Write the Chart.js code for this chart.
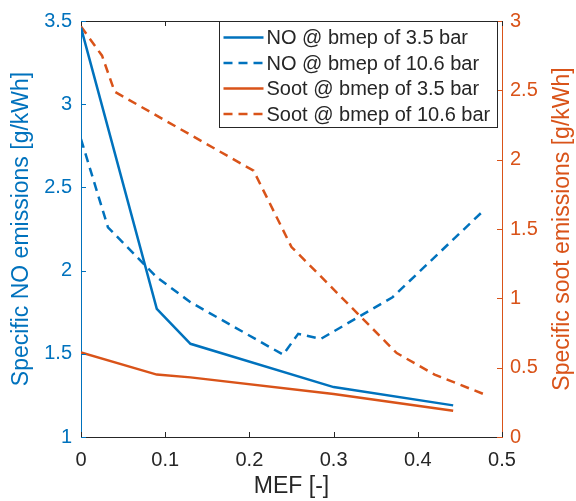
<!DOCTYPE html>
<html>
<head>
<meta charset="utf-8">
<script src="https://cdn.jsdelivr.net/npm/chart.js@4/dist/chart.umd.min.js"></script>
<style>
  body { margin: 0; background: #fff; }
  #wrap { width: 576px; height: 501px; }
</style>
</head>
<body>
<div id="wrap"><canvas id="chart" width="576" height="501"></canvas></div>
<script>
// values
const mefNo35 = [0, 0.09, 0.13, 0.30, 0.442];
const no35 = [3.46, 1.77, 1.56, 1.30, 1.19];
const mefNo106 = [0, 0.032, 0.09, 0.13, 0.24, 0.258, 0.285, 0.37, 0.478];
const no106 = [2.79, 2.26, 1.96, 1.81, 1.495, 1.62, 1.59, 1.84, 2.36];
const mefSoot35 = [0, 0.09, 0.13, 0.30, 0.442];
const soot35 = [0.61, 0.45, 0.43, 0.31, 0.19];
const mefSoot106 = [0, 0.025, 0.04, 0.205, 0.25, 0.30, 0.375, 0.42, 0.478];
const soot106 = [2.96, 2.75, 2.49, 1.92, 1.37, 1.065, 0.605, 0.45, 0.31];

const labels = ['NO @ bmep of 3.5 bar', 'NO @ bmep of 10.6 bar',
  'Soot @ bmep of 3.5 bar', 'Soot @ bmep of 10.6 bar'];
const sootTitle = 'Specific soot emissions [g/kWh]';

const blue = '#0072BD';
const orange = '#D95319';
const dark = '#262626';
const font = 'Arial, "Liberation Sans", Helvetica, sans-serif';

function pts(xs, ys) {
  return xs.map((x, i) => ({ x: x, y: ys[i] }));
}

// plain numbers like matlab: 1, 1.5, 2 ...
const plain = v => String(Math.round(v * 10) / 10);

// MATLAB style inward ticks, top box line, right label and an inside legend
const matlabBox = {
  id: 'matlabBox',
  afterDraw(chart) {
    const ctx = chart.ctx;
    const a = chart.chartArea;
    const sx = chart.scales.x, yl = chart.scales.y, yr = chart.scales.y2;
    const len = 5;
    ctx.save();
    ctx.lineWidth = 1;
    ctx.strokeStyle = dark;
    ctx.beginPath();
    ctx.moveTo(a.left, a.top + 0.5);
    ctx.lineTo(a.right, a.top + 0.5);
    sx.ticks.forEach(t => {
      const px = Math.round(sx.getPixelForValue(t.value)) + 0.5;
      ctx.moveTo(px, a.bottom);
      ctx.lineTo(px, a.bottom - len);
      ctx.moveTo(px, a.top);
      ctx.lineTo(px, a.top + len);
    });
    ctx.stroke();
    ctx.strokeStyle = blue;
    ctx.beginPath();
    yl.ticks.forEach(t => {
      const py = Math.round(yl.getPixelForValue(t.value)) + 0.5;
      ctx.moveTo(a.left, py);
      ctx.lineTo(a.left + len, py);
    });
    ctx.stroke();
    ctx.strokeStyle = orange;
    ctx.beginPath();
    yr.ticks.forEach(t => {
      const py = Math.round(yr.getPixelForValue(t.value)) + 0.5;
      ctx.moveTo(a.right, py);
      ctx.lineTo(a.right - len, py);
    });
    ctx.stroke();

    // right axis label, read bottom to top
    ctx.save();
    ctx.translate(yr.right - 13, (a.top + a.bottom) / 2);
    ctx.rotate(-Math.PI / 2);
    ctx.font = '23px ' + font;
    ctx.fillStyle = orange;
    ctx.textAlign = 'center';
    ctx.textBaseline = 'middle';
    ctx.fillText(sootTitle, 0, 0);
    ctx.restore();

    // legend
    const bw = 278, bh = 106;
    const bx = Math.round(a.right - 5 - bw) + 0.5;
    const by = Math.round(a.top) + 0.5;
    ctx.fillStyle = '#fff';
    ctx.fillRect(bx, by, bw, bh);
    ctx.strokeStyle = dark;
    ctx.strokeRect(bx, by, bw, bh);
    ctx.font = '20px ' + font;
    ctx.textBaseline = 'middle';
    chart.data.datasets.forEach((ds, i) => {
      const ry = by + 16 + i * 25.5;
      ctx.strokeStyle = ds.borderColor;
      ctx.lineWidth = ds.borderWidth;
      ctx.setLineDash(ds.borderDash || []);
      ctx.beginPath();
      ctx.moveTo(bx + 4, ry);
      ctx.lineTo(bx + 44, ry);
      ctx.stroke();
      ctx.setLineDash([]);
      ctx.fillStyle = dark;
      ctx.fillText(ds.label, bx + 47, ry + 1);
    });
    ctx.restore();
  }
};

const ctx = document.getElementById('chart').getContext('2d');
new Chart(ctx, {
  type: 'line',
  data: {
    datasets: [
      { label: labels[0], data: pts(mefNo35, no35), yAxisID: 'y',
        borderColor: blue, borderWidth: 2.5 },
      { label: labels[1], data: pts(mefNo106, no106), yAxisID: 'y',
        borderColor: blue, borderWidth: 2.5, borderDash: [9, 6] },
      { label: labels[2], data: pts(mefSoot35, soot35), yAxisID: 'y2',
        borderColor: orange, borderWidth: 2.5 },
      { label: labels[3], data: pts(mefSoot106, soot106), yAxisID: 'y2',
        borderColor: orange, borderWidth: 2.5, borderDash: [9, 6] }
    ]
  },
  options: {
    responsive: false,
    animation: false,
    devicePixelRatio: 1,
    layout: { padding: { top: 14, left: 0, right: 0, bottom: 0 } },
    elements: { point: { radius: 0 }, line: { tension: 0 } },
    plugins: { legend: { display: false }, tooltip: { enabled: false } },
    scales: {
      x: {
        type: 'linear', min: 0, max: 0.5,
        afterFit: s => { s.height = 64; },
        grid: { display: true, drawOnChartArea: false, drawTicks: false },
        border: { color: dark },
        ticks: { stepSize: 0.1, color: dark, padding: 11, callback: plain,
          font: { size: 20, family: font } },
        title: { display: true, text: 'MEF [-]', color: dark,
          padding: { top: 0, bottom: 1 }, font: { size: 23, family: font } }
      },
      y: {
        position: 'left', min: 1, max: 3.5,
        afterFit: s => { s.width = 81; },
        grid: { display: true, drawOnChartArea: false, drawTicks: false },
        border: { color: blue },
        ticks: { stepSize: 0.5, color: blue, padding: 9, callback: plain,
          font: { size: 20, family: font } },
        title: { display: true, text: 'Specific NO emissions [g/kWh]', color: blue,
          padding: { top: 8, bottom: 0 }, font: { size: 23, family: font } }
      },
      y2: {
        position: 'right', min: 0, max: 3,
        afterFit: s => { s.width = 74; },
        grid: { display: true, drawOnChartArea: false, drawTicks: false },
        border: { color: orange },
        ticks: { stepSize: 0.5, color: orange, padding: 8, callback: plain,
          font: { size: 20, family: font } },
        title: { display: false }
      }
    }
  },
  plugins: [matlabBox]
});
</script>
</body>
</html>
